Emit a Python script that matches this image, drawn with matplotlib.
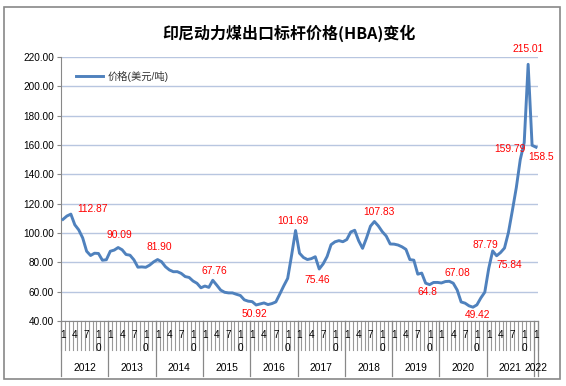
import matplotlib
matplotlib.use("Agg")
import matplotlib.pyplot as plt
from matplotlib.patches import Rectangle

plt.rcParams['font.family'] = ['Liberation Sans', 'Noto Sans CJK SC', 'DejaVu Sans']

# HBA monthly price, USD/ton, Jan 2012 - Jan 2022
p2012 = [109.29, 111.58, 112.87, 105.61, 102.12, 96.65, 87.56, 84.65, 86.21, 86.04, 81.44, 81.75]
p2013 = [87.55, 88.35, 90.09, 88.56, 85.33, 84.87, 81.69, 76.70, 76.89, 76.61, 78.13, 80.31]
p2014 = [81.90, 80.44, 77.01, 74.81, 73.60, 73.64, 72.45, 70.29, 69.69, 67.26, 65.70, 62.65]
p2015 = [63.84, 62.92, 67.76, 64.48, 61.08, 59.59, 59.16, 59.14, 58.21, 57.39, 54.43, 53.51]
p2016 = [53.20, 50.92, 51.62, 52.32, 51.20, 51.87, 53.00, 58.37, 63.93, 69.07, 84.89, 101.69]
p2017 = [86.23, 83.32, 81.90, 82.51, 83.81, 75.46, 78.95, 83.97, 92.03, 93.99, 94.80, 94.04]
p2018 = [95.54, 100.69, 101.86, 94.75, 89.53, 96.61, 104.65, 107.83, 104.81, 100.89, 97.90, 92.51]
p2019 = [92.41, 91.80, 90.57, 88.85, 81.86, 81.48, 71.92, 72.67, 65.79, 64.80, 66.27, 66.30]
p2020 = [65.93, 66.89, 67.08, 65.77, 61.11, 52.98, 52.16, 50.34, 49.42, 51.00, 55.71, 59.65]
p2021 = [75.84, 87.79, 84.47, 86.68, 89.74, 100.33, 115.35, 130.99, 150.03, 161.63, 215.01, 159.79]
p2022 = [158.50]

years = [2012, 2013, 2014, 2015, 2016, 2017, 2018, 2019, 2020, 2021, 2022]
prices = p2012 + p2013 + p2014 + p2015 + p2016 + p2017 + p2018 + p2019 + p2020 + p2021 + p2022
months = [i % 12 + 1 for i in range(len(prices))]

# labelled points: index into prices, label text
lab_idx = [2, 14, 24, 38, 49, 59, 65, 79, 93, 98, 104, 109, 108, 118, 119, 120]
lab_txt = ['112.87', '90.09', '81.90', '67.76', '50.92', '101.69', '75.46', '107.83',
           '64.8', '67.08', '49.42', '87.79', '75.84', '215.01', '159.79', '158.5']
# label offsets in pixels
lab_off = [(22, 5), (1, 12.5), (1.5, 12.5), (1.5, 9), (-2, -9), (-3, 10), (-2, -11), (5, 10),
           (-2, -7.5), (8.5, 8), (5, -8), (-7.5, 6), (21, 3), (0, 15), (-22, -4), (5, -9.5)]

W, H = 566, 386
fig = plt.figure(figsize=(W / 100, H / 100), dpi=100)
fig.patch.set_facecolor('white')
fig.patches.append(Rectangle((4 / W, 1 - 379 / H), 556 / W, 372 / H, transform=fig.transFigure,
                             fill=False, edgecolor='#888888', linewidth=1.2))

ax = fig.add_axes([61 / W, 1 - 321 / H, 477 / W, 264 / H])
n = len(prices)
x = list(range(n))
ax.plot(x, prices, color='#4f81bd', linewidth=2.1, solid_joinstyle='round', zorder=3)

ax.set_xlim(-0.5, n - 0.5)
ax.set_ylim(40, 220)
ax.set_yticks(range(40, 221, 20))
ax.set_yticklabels(['%.2f' % v for v in range(40, 221, 20)], fontsize=7.2)
ax.yaxis.grid(True, color='#b8c6e0', linewidth=1)
ax.set_axisbelow(True)
ax.tick_params(axis='y', length=3, color='#888888', pad=2)
ax.set_xticks([])
for s in ['top', 'right']:
    ax.spines[s].set_visible(False)
for s in ['left', 'bottom']:
    ax.spines[s].set_color('#888888')

# two-level category axis
tr = ax.get_xaxis_transform()
axh = 264.0
for k in range(n + 1):
    ax.plot([k - 0.5, k - 0.5], [0, -29 / axh], transform=tr, color='#999999', lw=0.8, clip_on=False)
for i, m in enumerate(months):
    if m in (1, 4, 7):
        ax.text(i, -14 / axh, str(m), transform=tr, ha='center', va='center', fontsize=7.2)
    elif m == 10:
        ax.text(i, -14 / axh, '1', transform=tr, ha='center', va='center', fontsize=7.2)
        ax.text(i, -27 / axh, '0', transform=tr, ha='center', va='center', fontsize=7.2)
for j, yr in enumerate(years):
    start = 12 * j
    cnt = len([v for v in months[start:start + 12]])
    ax.plot([start - 0.5, start - 0.5], [0, -55 / axh], transform=tr, color='#888888', lw=0.9, clip_on=False)
    ax.text(start + (cnt - 1) / 2, -47 / axh, str(yr), transform=tr, ha='center', va='center', fontsize=7.4)
ax.plot([n - 0.5, n - 0.5], [0, -55 / axh], transform=tr, color='#888888', lw=0.9, clip_on=False)

for i, t, off in zip(lab_idx, lab_txt, lab_off):
    ax.annotate(t, xy=(i, prices[i]), xytext=off, textcoords='offset pixels',
                ha='center', va='center', color='#ff0000', fontsize=7.4, annotation_clip=False)

# legend
ax.plot([15 / 477, 42 / 477], [245 / axh, 245 / axh], transform=ax.transAxes,
        color='#4f81bd', linewidth=2.1)
ax.text(47 / 477, 245 / axh, '价格(美元/吨)', transform=ax.transAxes, ha='left', va='center',
        fontsize=7.4, color='#333333')

fig.text(289 / W, 1 - 33 / H, '印尼动力煤出口标杆价格(HBA)变化', ha='center', va='center',
         fontsize=11.5, fontweight='bold', family=['Noto Sans CJK SC', 'DejaVu Sans'])

fig.savefig('out.png', dpi=100)
